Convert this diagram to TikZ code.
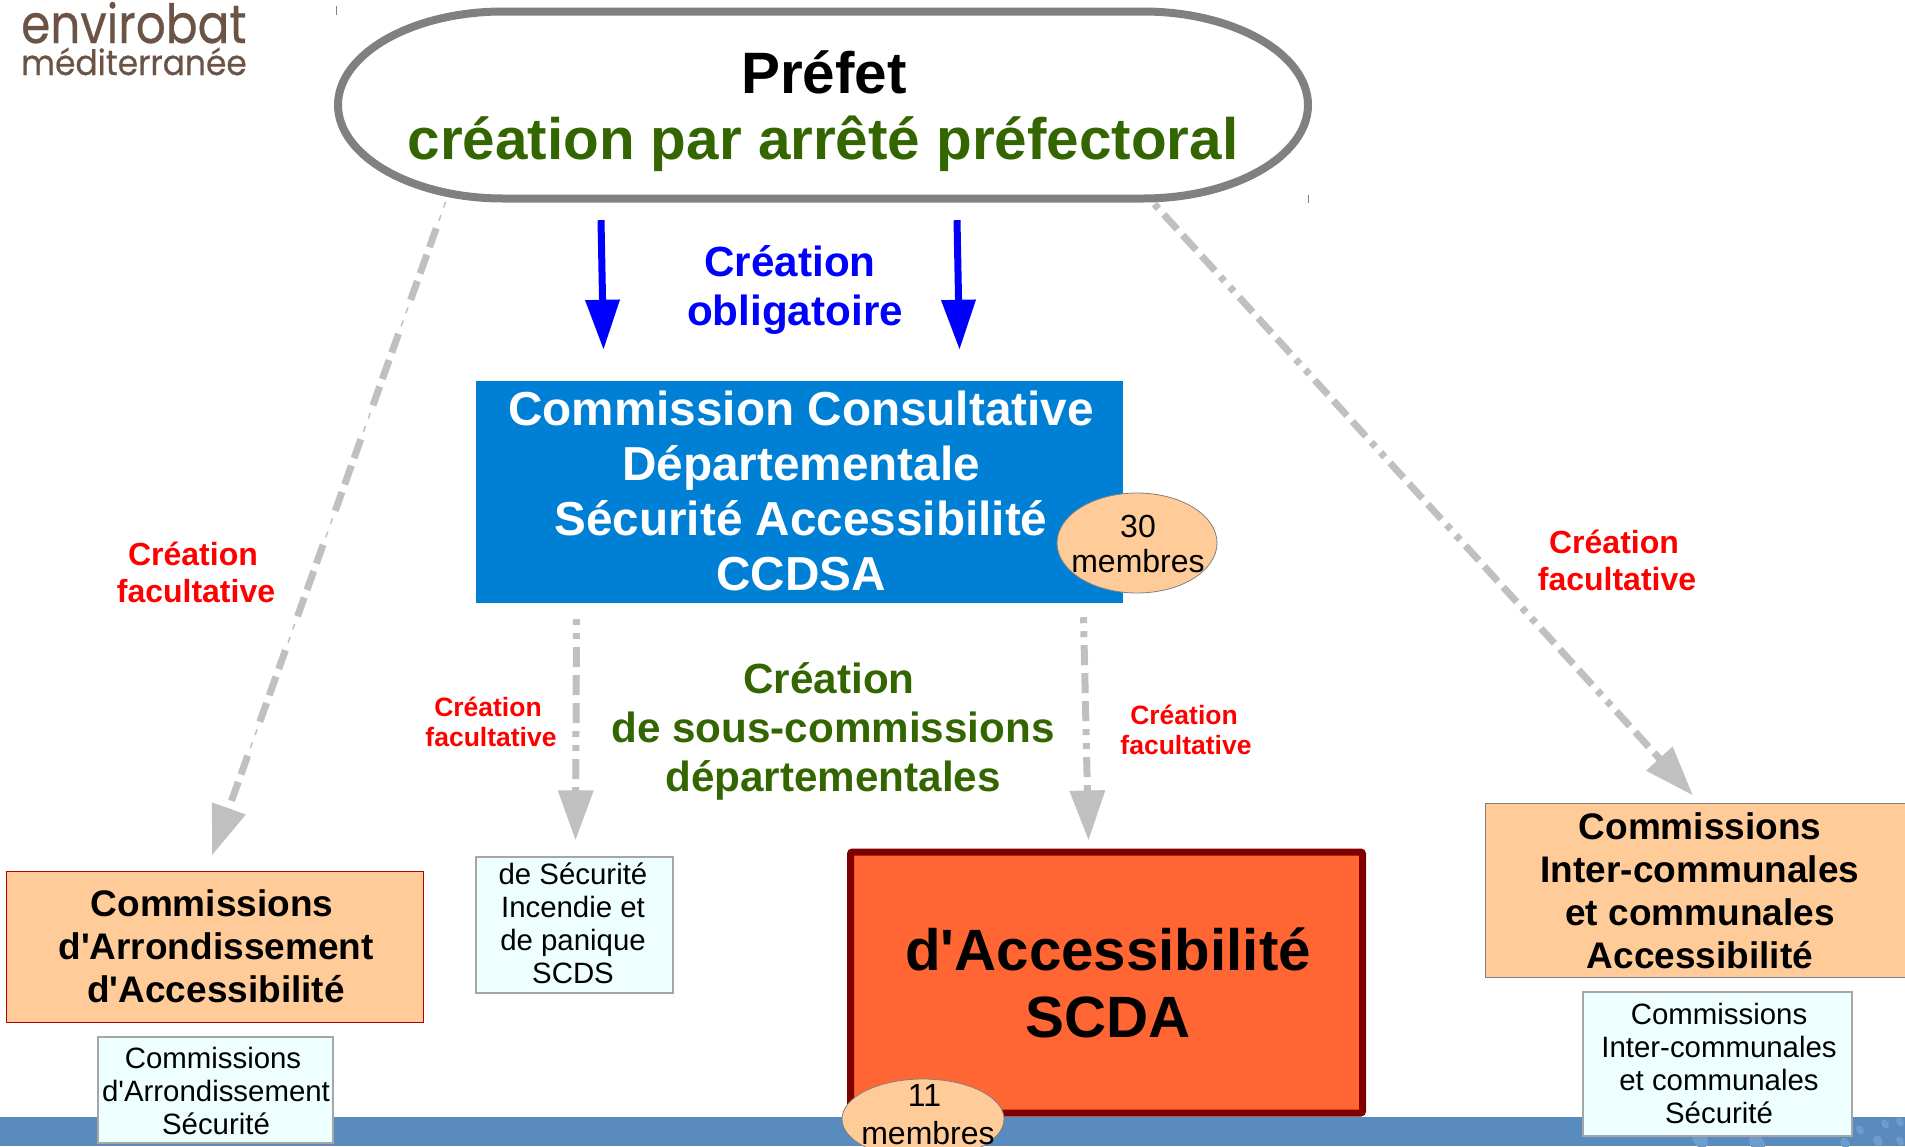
\documentclass[tikz,border=0pt]{standalone}
\usepackage{fontspec}
\setmainfont{Liberation Sans}
\newfontfamily\lsans{Liberation Sans}
\newfontfamily\logofont[FakeBold=0.5]{Poppins}
\usetikzlibrary{arrows.meta,shapes.geometric}
\definecolor{gris}{HTML}{808080}
\definecolor{grisclair}{HTML}{C0C0C0}
\definecolor{vertf}{HTML}{336600}
\definecolor{bleuc}{HTML}{0080D4}
\definecolor{orangec}{HTML}{FFCC99}
\definecolor{rougeb}{HTML}{FF6633}
\definecolor{glace}{HTML}{EEFFFF}
\definecolor{bande}{HTML}{5A8BBF}
\definecolor{bandec}{HTML}{6F9CC9}
\definecolor{brun}{HTML}{6B5445}
\newcommand{\fs}[2]{\lsans\fontsize{#1}{#2}\selectfont}
\tikzset{
  txt/.style={inner sep=0pt,align=center},
  redbig/.style={txt,text=red,font=\bfseries\fs{32}{37}},
  redsmall/.style={txt,text=red,font=\bfseries\fs{26.5}{30}},
  bluearrow/.style={draw=blue,line width=7pt,-{Triangle[length=50pt,width=33pt]}},
  grayarrow/.style={draw=grisclair,line width=7pt,-{Triangle[length=50pt,width=34pt]},
    dash pattern=on 20pt off 8pt on 20pt off 8pt on 20pt off 8pt on 6pt off 8pt on 6pt off 8pt},
  thickonly/.style={draw=grisclair,line width=7pt,-{Triangle[length=50pt,width=34pt]},
    dash pattern=on 20pt off 8pt on 20pt off 8pt on 20pt off 36pt},
  thinonly/.style={draw=grisclair,line width=1.5pt,
    dash pattern=on 6pt off 8pt on 6pt off 92pt},
  orangebox/.style={draw=#1,line width=1pt,fill=orangec,inner sep=0pt,align=center,font=\bfseries\fs{37}{43}},
  icebox/.style={draw=gray!70,line width=1.2pt,fill=glace,inner sep=0pt,align=center,font=\fs{29.4}{33}},
  pastille/.style={draw=gray,line width=.8pt,fill=orangec,ellipse,inner sep=0pt},
}
\begin{document}
\begin{tikzpicture}[x=1pt,y=-1pt]
\useasboundingbox (0,0) rectangle (1905,1146);
\clip (0,0) rectangle (1905,1146);
% bottom band
\fill[bande] (0,1117) rectangle (1905,1146);
\foreach \cx/\cy/\rr in {1700/1139/10,1757/1143/10,1815/1132/6,1845/1143/6,1860/1130/5,1885/1124/5,1900/1122/5,1878/1141/6,1900/1141/5}
  \fill[bandec,rotate around={-60:(\cx,\cy)}] (\cx,\cy) ellipse [x radius=\rr,y radius=0.7*\rr];
% logo
\node[anchor=base west,inner sep=0pt,text=brun,font=\logofont\fontsize{54}{54}\selectfont,xscale=0.87,transform shape] (logoa) at (21,43) {envirobat};
\node[anchor=base west,inner sep=0pt,text=brun,font=\logofont\fontsize{35}{40}\selectfont,xscale=0.94,transform shape] (logob) at (21,75) {méditerranée};
% small marks
\draw[gris,line width=.8pt] (336,6) -- (336,15);
\draw[gris,line width=.8pt] (1308,195) -- (1308,203);
% prefet
\draw[gris,line width=8pt,fill=white]
  (503,11.5) -- (1143,11.5)
  .. controls (1234,11.5) and (1308,54) .. (1308,105)
  .. controls (1308,156) and (1234,198.5) .. (1143,198.5)
  -- (503,198.5)
  .. controls (412,198.5) and (338,156) .. (338,105)
  .. controls (338,54) and (412,11.5) .. (503,11.5) -- cycle;
\node[minimum width=970pt,minimum height=186pt,inner sep=0pt] (prefet) at (823,105) {};
\node[txt,font=\bfseries\fs{58.4}{66}] (pa) at (824,72) {Préfet};
\node[txt,font=\bfseries\fs{58.4}{66},text=vertf] (pb) at (823,144) {création par arrêté préfectoral};
% CCDSA
\node[fill=bleuc,minimum width=647pt,minimum height=222pt,inner sep=0pt] (ccdsa) at (799.5,492) {};
\node[txt,text=white,font=\bfseries\fs{47.7}{55}] (ccdsat) at (801,491)
  {Commission Consultative\\Départementale\\Sécurité Accessibilité\\CCDSA};
\node[pastille,minimum width=160pt,minimum height=100pt] (m30) at (1137,543) {};
\node[txt,font=\fs{32}{35}] (m30t) at (1138,543.5) {30\\membres};
% labels
\node[txt,text=blue,font=\bfseries\fs{42.2}{49.5}] (obli) at (795,290) {Création\hspace*{10pt}\\obligatoire};
\node[txt,text=vertf,font=\bfseries\fs{42.2}{49}] (sous) at (833,731) {Création\hspace*{8pt}\\de sous-commissions\\départementales};
\node[redbig] (rl) at (196,572) {Création\hspace*{6pt}\\facultative};
\node[redbig] (rr) at (1617,560) {Création\hspace*{6pt}\\facultative};
\node[redsmall] (rml) at (491,722) {Création\hspace*{6pt}\\facultative};
\node[redsmall] (rmr) at (1186,730) {Création\hspace*{4pt}\\facultative};
% boxes
\node[orangebox=red!70!black,minimum width=417pt,minimum height=151pt] (arr) at (215,946.5) {};
\node[txt,font=\bfseries\fs{37}{43}] (arrt) at (216,946.5) {Commissions\hspace*{8pt}\\d'Arrondissement\\d'Accessibilité};
\node[orangebox=gris,minimum width=440pt,minimum height=174pt] (inter) at (1705,890) {};
\node[txt,font=\bfseries\fs{37}{43}] (intert) at (1700,890.5) {Commissions\\Inter-communales\\et communales\\Accessibilité};
\node[icebox,minimum width=235pt,minimum height=106pt] (arrs) at (215.5,1090) {};
\node[txt,font=\fs{29.4}{33}] (arrst) at (216,1090.5) {Commissions\hspace*{6pt}\\d'Arrondissement\\Sécurité};
\node[icebox,minimum width=197pt,minimum height=136pt] (scds) at (574.5,925) {};
\node[txt,font=\fs{29.4}{33}] (scdst) at (573,923) {de Sécurité\\Incendie et\\de panique\\SCDS};
\node[icebox,minimum width=269pt,minimum height=144pt] (inters) at (1717.5,1064) {};
\node[txt,font=\fs{29.4}{33}] (interst) at (1719,1063) {Commissions\\Inter-communales\\et communales\\Sécurité};
\node[draw=red!50!black,line width=7pt,fill=rougeb,rounded corners=2pt,minimum width=512pt,minimum height=261pt,inner sep=0pt] (scda) at (1106.5,982.5) {};
\node[txt,font=\bfseries\fs{58.3}{67}] (scdat) at (1108,982.5) {d'Accessibilité\\SCDA};
\node[pastille,minimum width=162pt,minimum height=80pt] (m11) at (923,1119) {};
\node[txt,font=\fs{32}{38}] (m11t) at (928,1115) {11\hspace*{7pt}\\membres};
% connectors
\draw[bluearrow] ([shift={(-222,22)}]prefet.south) -- ([shift={(-196,-31)}]ccdsa.north);
\draw[bluearrow] ([shift={(134,22)}]prefet.south) -- ([shift={(160,-31)}]ccdsa.north);
\draw[thickonly,dash phase=80pt] ([shift={(-376,0)}]prefet.south) -- ([shift={(-3,-15)}]arr.north);
\draw[thinonly,dash phase=108pt,shorten >=60pt] ([shift={(-376,0)}]prefet.south) -- ([shift={(-3,-15)}]arr.north);
\draw[grayarrow,dash phase=90pt] ([shift={(326,0)}]prefet.south) -- ([shift={(-12,-7)}]inter.north);
\draw[grayarrow,dash phase=84pt] ([shift={(-223,16)}]ccdsa.south) -- ([shift={(1,-16)}]scds.north);
\draw[grayarrow,dash phase=84pt] ([shift={(284,14)}]ccdsa.south) -- ([shift={(-18,-8)}]scda.north);
\end{tikzpicture}
\end{document}
